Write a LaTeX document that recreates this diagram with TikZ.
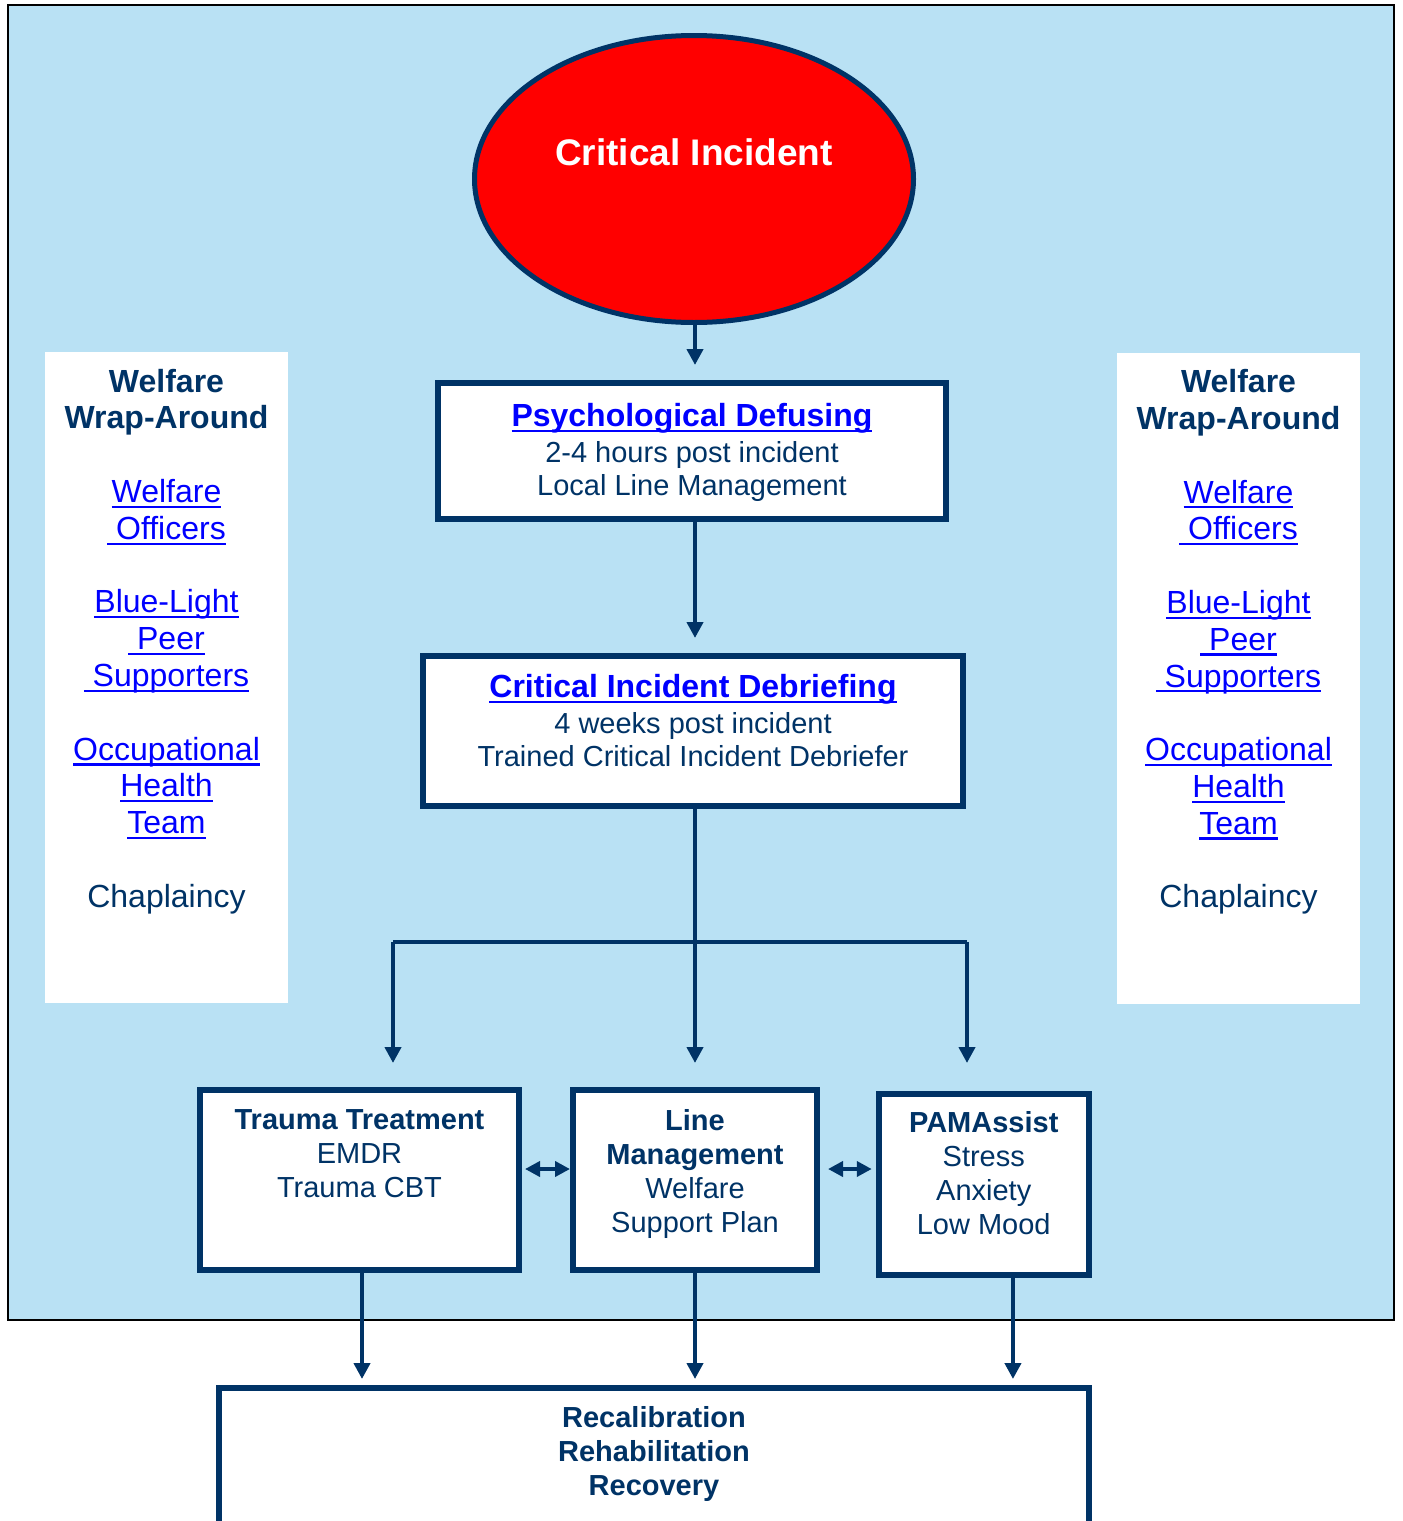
\documentclass[tikz,border=0pt]{standalone}
\usepackage{fontspec}
\setmainfont{Liberation Sans}
\usetikzlibrary{arrows.meta}
\usetikzlibrary{shapes.geometric}
\definecolor{navy}{HTML}{003366}
\definecolor{skyblue}{HTML}{B9E1F4}
\definecolor{linkblue}{HTML}{0000FF}
\definecolor{alertred}{HTML}{FF0000}
% underlined link text
\newcommand{\lnk}[1]{{\color{linkblue}\setbox0=\hbox{#1}\rlap{\rule[-0.17em]{\wd0}{0.07em}}\box0}}
% bold title of a stage box
\newcommand{\headfont}{\fontsize{16}{18}\selectfont\bfseries}
% contents of both side panels
\newcommand{\wraptext}{\textbf{Welfare}\\ \textbf{Wrap-Around}\\[18.4pt]
  \lnk{Welfare}\\ \lnk{\ Officers}\\[18.4pt]
  \lnk{Blue-Light}\\ \lnk{\ Peer}\\ \lnk{\ Supporters}\\[18.4pt]
  \lnk{Occupational}\\ \lnk{Health}\\ \lnk{Team}\\[18.4pt]
  Chaplaincy\\[21pt]\mbox{}}
\tikzset {
  % the red oval on top
  incident/.style = {ellipse, draw=navy, line width=2.5pt, fill=alertred, text=white,
    inner sep=0pt, minimum width=219.5pt, minimum height=143.5pt,
    font=\fontsize{18.5}{22}\selectfont\bfseries},
  % boxes of the pathway
  stagebox/.style = {draw=navy, line width=3pt, fill=white, text=navy, align=center,
    inner sep=0pt, font=\fontsize{14.5}{16.5}\selectfont},
  % boxes of the lower row
  lowbox/.style = {stagebox, minimum height=90pt, font=\fontsize{14.5}{17}\selectfont},
  % white side panels
  panel/.style = {fill=white, text=navy, align=center, inner sep=0pt,
    minimum width=121.5pt, minimum height=325.5pt, font=\fontsize{16}{18.4}\selectfont},
  % connectors
  flow/.style = {navy, line width=2.2pt},
}
\begin{document}
\begin{tikzpicture}[x=0.5pt, y=-0.5pt, >={Triangle[width=8pt,length=8pt]}]
  \useasboundingbox (0,0) rectangle (1403,1521);
  \clip (0,0) rectangle (1403,1521);
  \draw[black, line width=1pt, fill=skyblue] (8,5) rectangle (1394,1320);

  \node[panel] (wl) at (166.5,677.5) {\wraptext};
  \node[panel] (wr) at (1238.5,678) {\wraptext};

  \node[incident] (inc) at (694,179) {\raisebox{27pt}{Critical Incident}};
  \node[stagebox, minimum width=254pt, minimum height=68pt] (defuse) at (692,451)
    {{\headfont\lnk{Psychological Defusing}}\\[1.5pt] 2-4 hours post incident\\ Local Line Management\\[-15pt]\mbox{}};
  \node[stagebox, minimum width=270pt, minimum height=75pt] (debrief) at (693,731)
    {{\headfont\lnk{Critical Incident Debriefing}}\\[1.5pt] 4 weeks post incident\\ Trained Critical Incident Debriefer\\[-6pt]\mbox{}};

  \node[lowbox, minimum width=159.5pt] (trauma) at (359.5,1180)
    {\textbf{Trauma Treatment}\\ EMDR\\ Trauma CBT\\[9pt]\mbox{}};
  \node[lowbox, minimum width=122pt] (linemgmt) at (695,1180)
    {\textbf{Line}\\ \textbf{Management}\\ Welfare\\ Support Plan\\[-8pt]\mbox{}};
  \node[lowbox, minimum width=105pt, minimum height=90.5pt] (pam) at (983.75,1184.5)
    {\textbf{PAMAssist}\\ Stress\\ Anxiety\\ Low Mood\\[-5pt]\mbox{}};
  \node[stagebox, minimum width=435pt, inner ysep=9pt, anchor=north,
    font=\fontsize{14.5}{17.2}\selectfont\bfseries] (recov) at (654,1385)
    {Recalibration\\ Rehabilitation\\ Recovery\\[10pt]\mbox{}};

  \coordinate (split) at (695,942);
  \coordinate (splitl) at (393,942);
  \coordinate (splitr) at (967,942);

  \draw[flow, ->, shorten >=7.5pt] (inc.south -| split) -- (split |- defuse.north);
  \draw[flow, ->, shorten >=7.5pt] (defuse.south -| split) -- (split |- debrief.north);
  \draw[flow] (debrief.south -| split) -- (split);
  \draw[flow] (splitl) -- (splitr);
  \draw[flow, ->, shorten >=12pt] (splitl) -- (splitl |- trauma.north);
  \draw[flow, ->, shorten >=12pt] (split) -- (split |- linemgmt.north);
  \draw[flow, ->, shorten >=14pt] (splitr) -- (splitr |- pam.north);

  \draw[flow, <->, >={Triangle[width=7.5pt,length=7.5pt]}, shorten <=1.5pt]
    ([yshift=5.5pt]trauma.east) -- ([yshift=5.5pt]linemgmt.west);
  \draw[flow, <->, >={Triangle[width=7.5pt,length=7.5pt]}, shorten <=4pt, shorten >=2pt]
    ([yshift=5.5pt]linemgmt.east) -- ([yshift=5.5pt]linemgmt.east -| pam.west);

  \draw[flow, ->, shorten >=3pt] ([xshift=1.25pt]trauma.south) -- ([xshift=1.25pt]trauma.south |- recov.north);
  \draw[flow, ->, shorten >=3pt] (linemgmt.south) -- (linemgmt.south |- recov.north);
  \draw[flow, ->, shorten >=3pt] ([xshift=14.6pt]pam.south) -- ([xshift=14.6pt]pam.south |- recov.north);
\end{tikzpicture}
\end{document}
